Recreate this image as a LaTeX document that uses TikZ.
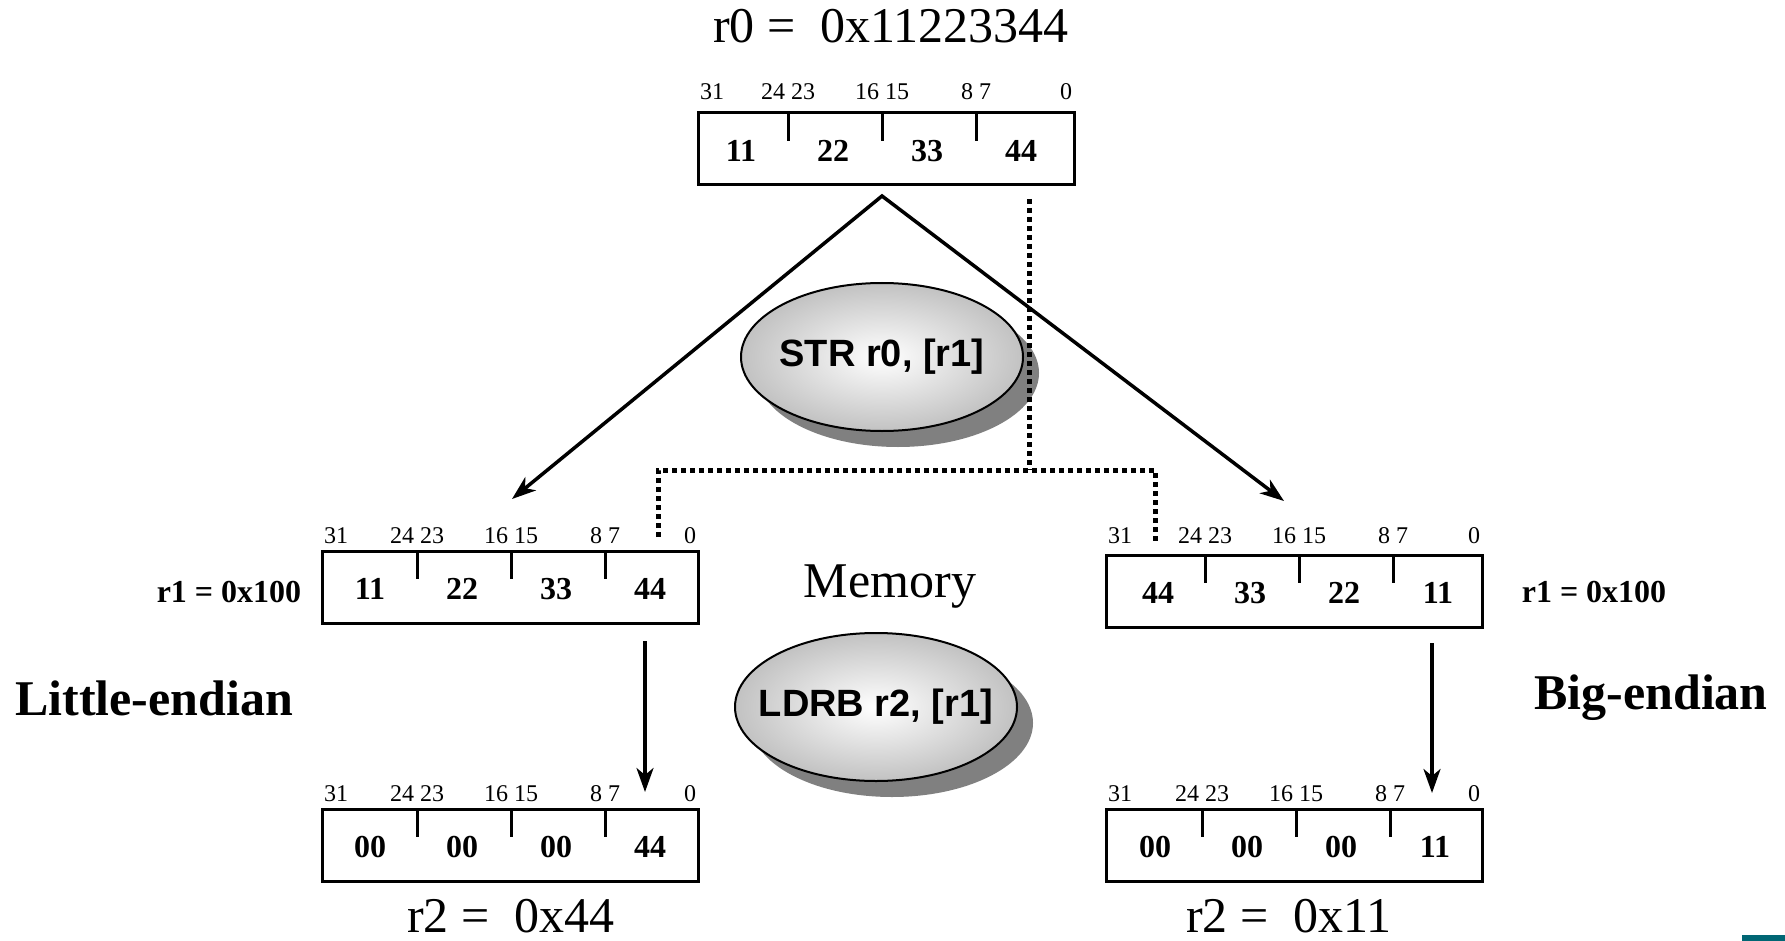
\documentclass[tikz,border=0pt]{standalone}
\usepackage{fontspec}
\setmainfont{Liberation Serif}
\newfontfamily\arialfont{Liberation Sans}
\usetikzlibrary{calc,shapes.geometric,shadows,arrows.meta}
\definecolor{tealbar}{RGB}{0,102,116}
\definecolor{shadowgray}{RGB}{128,128,128}
\newcommand\fs[1]{\fontsize{#1pt}{#1pt}\selectfont}
\tikzset{
  reg/.style={rectangle, draw, line width=3pt, minimum width=376pt, minimum height=72pt, inner sep=0pt, outer sep=0pt},
  tickline/.style={line width=3pt},
  val/.style={font=\fs{32}\bfseries, inner sep=0pt},
  bitlab/.style={font=\fs{24}, inner sep=0pt, anchor=base},
  big/.style={font=\fs{50}, inner sep=0pt, anchor=base},
  instr/.style={ellipse, draw, line width=2pt, minimum width=282pt, minimum height=148pt, inner sep=0pt,
    shading=radial, inner color=white, outer color=black!24,
    drop shadow={shadow xshift=16pt, shadow yshift=-16pt, fill=shadowgray, opacity=1}},
  instrtext/.style={font=\arialfont\bfseries\fs{38}, inner sep=0pt},
  conn/.style={line width=3.5pt, -{Stealth[length=24pt,width=17pt,inset=7pt]}},
  conntwo/.style={line width=3.5pt, {Stealth[length=24pt,width=17pt,inset=7pt]}-{Stealth[length=24pt,width=17pt,inset=7pt]}},
  dotline/.style={line width=5pt, dash pattern=on 5pt off 4pt},
  side/.style={font=\fs{50}\bfseries, inner sep=0pt, anchor=base},
  addr/.style={font=\fs{32}\bfseries, inner sep=0pt, anchor=base},
}
% #1 name, #2 x, #3 y, #4-#7 values, #8 label gap, #9 interior shift
\newcommand\regbox[9]{%
  \node[reg, anchor=north west] (#1) at (#2,#3) {};
  \foreach \t in {93,187,281} {\draw[tickline] ($(#1.north west)+(\t+#9,0)$) -- ++(0,28);}
  \node[val] (#1a) at ($(#1.north west)+(46+#9,38)$) {#4};
  \node[val] (#1b) at ($(#1.north west)+(138+#9,38)$) {#5};
  \node[val] (#1c) at ($(#1.north west)+(232+#9,38)$) {#6};
  \node[val] (#1d) at ($(#1.north west)+(326+#9,38)$) {#7};
  \node[bitlab] (#1la) at ($(#1.north west)+(14,-#8)$) {31};
  \node[bitlab] (#1lb) at ($(#1.north west)+(93+#9,-#8)$) {24 23};
  \node[bitlab] (#1lc) at ($(#1.north west)+(187+#9,-#8)$) {16 15};
  \node[bitlab] (#1ld) at ($(#1.north west)+(281+#9,-#8)$) {8 7};
  \node[bitlab] (#1le) at ($(#1.north west)+(368,-#8)$) {0};
}
\begin{document}
\begin{tikzpicture}[x=1pt,y=-1pt]
\fill[white] (0,0) rectangle (1785,941);
\useasboundingbox (0,0) rectangle (1785,941);

\regbox{top}{698}{113}{11}{22}{33}{44}{13}{-3}
\regbox{lm}{322}{551}{11}{22}{33}{44}{8}{2}
\regbox{rm}{1106}{555}{44}{33}{22}{11}{12}{6}
\regbox{lb}{322}{809}{00}{00}{00}{44}{8}{2}
\regbox{rb}{1106}{809}{00}{00}{00}{11}{8}{3}

\node[big] (title) at (891,43) {r0 = \ 0x11223344};
\node[big] (mem) at (890,597) {Memory};
\node[big] (r2l) at (511,932) {r2 = \ 0x44};
\node[big] (r2r) at (1289,932) {r2 = \ 0x11};
\node[addr] (r1l) at (229,602) {r1 = 0x100};
\node[addr] (r1r) at (1594,602) {r1 = 0x100};
\node[side] (le) at (154,715) {Little-endian};
\node[side] (be) at (1651,709) {Big-endian};

\node[instr] (str) at (882,357) {};
\node[instrtext] (strt) at (str.center) {STR r0, [r1]};
\node[instr] (ldrb) at (876,707) {};
\node[instrtext] (ldrbt) at (ldrb.center) {LDRB r2, [r1]};

\coordinate (apex) at (882,196);
\coordinate (ltip) at (512,499);
\coordinate (rtip) at (1284,501);
\draw[conntwo] (ltip) -- (apex) -- (rtip);

\coordinate (la0) at ($(lm.south west)+(323,18)$);
\coordinate (la1) at ($(lb.north west)+(323,-17)$);
\coordinate (ra0) at ($(rm.south west)+(326,16)$);
\coordinate (ra1) at ($(rb.north west)+(326,-16)$);
\draw[conn] (la0) -- (la1);
\draw[conn] (ra0) -- (ra1);

\coordinate (d0) at (1029,199);
\coordinate (d1) at (1029,470);
\coordinate (dl) at (658,537);
\coordinate (dr) at (1155,541);
\draw[dotline] (d0) -- (d1);
\draw[dotline] (dl) -- (dl |- d1) -- (dr |- d1) -- (dr);

\fill[tealbar] (1742,935) rectangle (1785,941);
\end{tikzpicture}
\end{document}
